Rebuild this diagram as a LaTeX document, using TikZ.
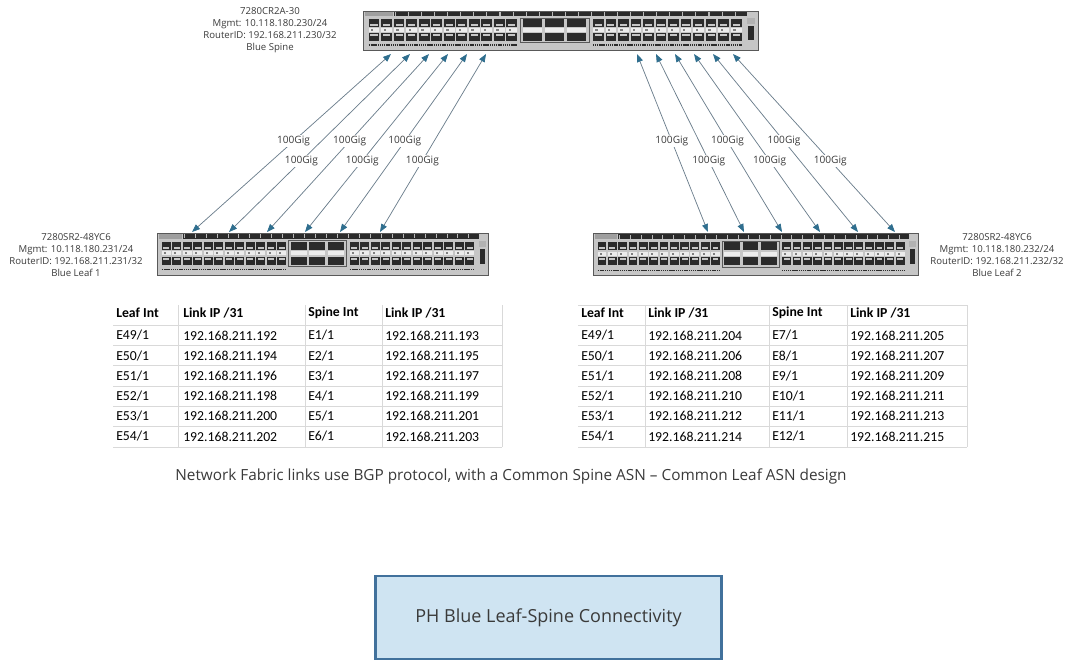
\documentclass[tikz,border=0pt]{standalone}
\usepackage{fontspec}
\setmainfont{Open Sans}
\newfontfamily\tabfont{Carlito}
\usetikzlibrary{arrows.meta}

\definecolor{txtgray}{HTML}{3A3A3A}
\definecolor{linkline}{HTML}{6B7E8C}
\definecolor{linktip}{HTML}{2F6E8E}
\definecolor{gridgray}{HTML}{D9D9D9}
\definecolor{chassis}{HTML}{C6C6C6}
\definecolor{portdark}{HTML}{2B2B2B}
\definecolor{boxfill}{HTML}{CFE4F2}
\definecolor{boxline}{HTML}{41719C}

\tikzset{
  switchbody/.style={draw=gray!70!black, fill=chassis, inner sep=0pt},
  lbl/.style={align=center, text=txtgray, font=\fontsize{7.2}{9}\selectfont},
  gig/.style={fill=white, inner sep=0.6pt, text=txtgray, font=\fontsize{7.6}{9}\selectfont},
  link/.style={draw=linkline, line width=0.55pt, {Triangle[length=6pt,width=4.6pt,color=linktip]}-{Triangle[length=6pt,width=4.6pt,color=linktip]}},
  cell/.style={anchor=west, inner sep=0pt, font=\tabfont\fontsize{10.3}{12}\selectfont},
  hcell/.style={cell, font=\tabfont\bfseries\fontsize{10.3}{12}\selectfont},
  grid/.style={draw=gridgray, line width=0.6pt},
}

% front panel of a switch, drawn in local pixel units (331 x 42)
\newcommand{\switchports}{%
  \fill[gray!75] (2,1) rectangle (25,6);
  \fill[portdark] (26,1) rectangle (322,6);
  \foreach \i in {0,...,26} \fill[gray!55] (27+\i*10.95,1.5) rectangle ++(0.9,4);
  \foreach \b in {5,193} {
    \foreach \i in {0,...,11} {
      \fill[portdark] (\b+\i*10.5,9) rectangle ++(9,8);
      \fill[portdark] (\b+\i*10.5,24) rectangle ++(9,8);
      \fill[gray!45] (\b+\i*10.5+1.5,14) rectangle ++(6,2);
      \fill[gray!45] (\b+\i*10.5+1.5,25) rectangle ++(6,2);
      \fill[white!85!gray] (\b+\i*10.5,18.5) rectangle ++(9,4);
      \fill[gray] (\b+\i*10.5+2,19.5) rectangle ++(2,2);
    }
    \draw[portdark, line width=1.1pt, dash pattern=on 0.9pt off 0.5pt] (\b,37) -- ++(125,0);
  }
  \draw[gray!70!black] (132,8) rectangle (190,34);
  \foreach \i in {0,1,2} {
    \fill[portdark] (134+\i*18.6,9) rectangle ++(16,8);
    \fill[white!85!gray] (134+\i*18.6,18.5) rectangle ++(16,4);
    \fill[portdark] (134+\i*18.6,24) rectangle ++(16,8);
  }
  \fill[gray!60] (322,8) rectangle (329,14);
  \fill[portdark] (323,16) rectangle (328,31);
}

\begin{document}
\begin{tikzpicture}[x=0.75pt, y=-0.75pt]
  \useasboundingbox (0,0) rectangle (1074,662);

  % switches
  \node[switchbody, minimum width=296.25pt, minimum height=29.25pt] (spine) at (560.5,30.5) {};
  \node[switchbody, minimum width=248.25pt, minimum height=31.5pt] (leafA) at (322.5,254) {};
  \node[switchbody, minimum width=243.75pt, minimum height=31.5pt] (leafB) at (755.5,254.5) {};
  \begin{scope}[shift={(spine.north west)}, xscale=1.193, yscale=0.93]
    \switchports
  \end{scope}
  \begin{scope}[shift={(leafA.north west)}]
    \switchports
  \end{scope}
  \begin{scope}[shift={(leafB.north west)}, xscale=0.982]
    \switchports
  \end{scope}

  \node[lbl] (spinelbl) at (270,30.5) {7280CR2A-30\\Mgmt: 10.118.180.230/24\\RouterID: 192.168.211.230/32\\Blue Spine};
  \node[lbl] (leafAlbl) at (76,255) {7280SR2-48YC6\\Mgmt: 10.118.180.231/24\\RouterID: 192.168.211.231/32\\Blue Leaf 1};
  \node[lbl] (leafBlbl) at (997,255) {7280SR2-48YC6\\Mgmt: 10.118.180.232/24\\RouterID: 192.168.211.232/32\\Blue Leaf 2};

  % port end points
  \foreach \x [count=\k] in {391,410,429,448,467,486} \coordinate (sa\k) at (\x,54);
  \foreach \x [count=\k] in {637,656,675,694,713,733} \coordinate (sb\k) at (\x,54);
  \foreach \x [count=\k] in {192,229,267,305,340,380} \coordinate (la\k) at (\x,232);
  \foreach \x [count=\k] in {708,744,782,820,858,895} \coordinate (lb\k) at (\x,232);

  % 100G links
  \foreach \k/\p in {1/0.51,2/0.40,3/0.51,4/0.40,5/0.51,6/0.40} {
    \draw[link] (la\k) -- node[gig, pos=\p] (ga\k) {100Gig} (sa\k);
    \draw[link] (lb\k) -- node[gig, pos=\p] (gb\k) {100Gig} (sb\k);
  }

  % link tables
  \foreach \y in {325,345,365,386,406,426,447} {
    \draw[grid] (113,\y) -- (502,\y);
    \draw[grid] (578,\y) -- (967,\y);
  }
  \draw[grid] (578,305) -- (967,305);
  \foreach \x in {178,305,382,502} \draw[grid] (\x,305) -- (\x,447);
  \foreach \x in {645,769,847,967} \draw[grid] (\x,305) -- (\x,447);

  \node[hcell] (ta-h1) at (116,313) {Leaf Int};
  \node[hcell] (ta-h2) at (183,313) {Link IP /31};
  \node[hcell] (ta-h3) at (308,313) {Spine Int};
  \node[hcell] (ta-h4) at (385,313) {Link IP /31};
  \node[hcell] (tb-h1) at (581,313) {Leaf Int};
  \node[hcell] (tb-h2) at (648,313) {Link IP /31};
  \node[hcell] (tb-h3) at (772,313) {Spine Int};
  \node[hcell] (tb-h4) at (850,313) {Link IP /31};
  \foreach \i [evaluate=\i as \ea using int(49+\i),
               evaluate=\i as \ia using int(192+2*\i),
               evaluate=\i as \ib using int(204+2*\i),
               evaluate=\i as \sa using int(1+\i),
               evaluate=\i as \sb using int(7+\i),
               evaluate=\i as \yy using 335.5+20.2*\i] in {0,...,5} {
    \node[cell] (ta-\i-1) at (116,\yy) {E\ea/1};
    \node[cell] (ta-\i-2) at (183,\yy) {192.168.211.\ia};
    \node[cell] (ta-\i-3) at (308,\yy) {E\sa/1};
    \pgfmathtruncatemacro\ja{\ia+1}
    \node[cell] (ta-\i-4) at (385,\yy) {192.168.211.\ja};
    \node[cell] (tb-\i-1) at (581,\yy) {E\ea/1};
    \node[cell] (tb-\i-2) at (648,\yy) {192.168.211.\ib};
    \node[cell] (tb-\i-3) at (772,\yy) {E\sb/1};
    \pgfmathtruncatemacro\jb{\ib+1}
    \node[cell] (tb-\i-4) at (850,\yy) {192.168.211.\jb};
  }

  \node[text=txtgray, font=\fontsize{11.5}{13}\selectfont] (note) at (511,476)
    {Network Fabric links use BGP protocol, with a Common Spine ASN -- Common Leaf ASN design};

  % title box
  \node[draw=boxline, line width=1.6pt, fill=boxfill, minimum width=259.5pt, minimum height=62pt,
        text=txtgray, font=\fontsize{13.5}{16}\selectfont] (title) at (548.5,617.5) {PH Blue Leaf-Spine Connectivity};
\end{tikzpicture}
\end{document}
